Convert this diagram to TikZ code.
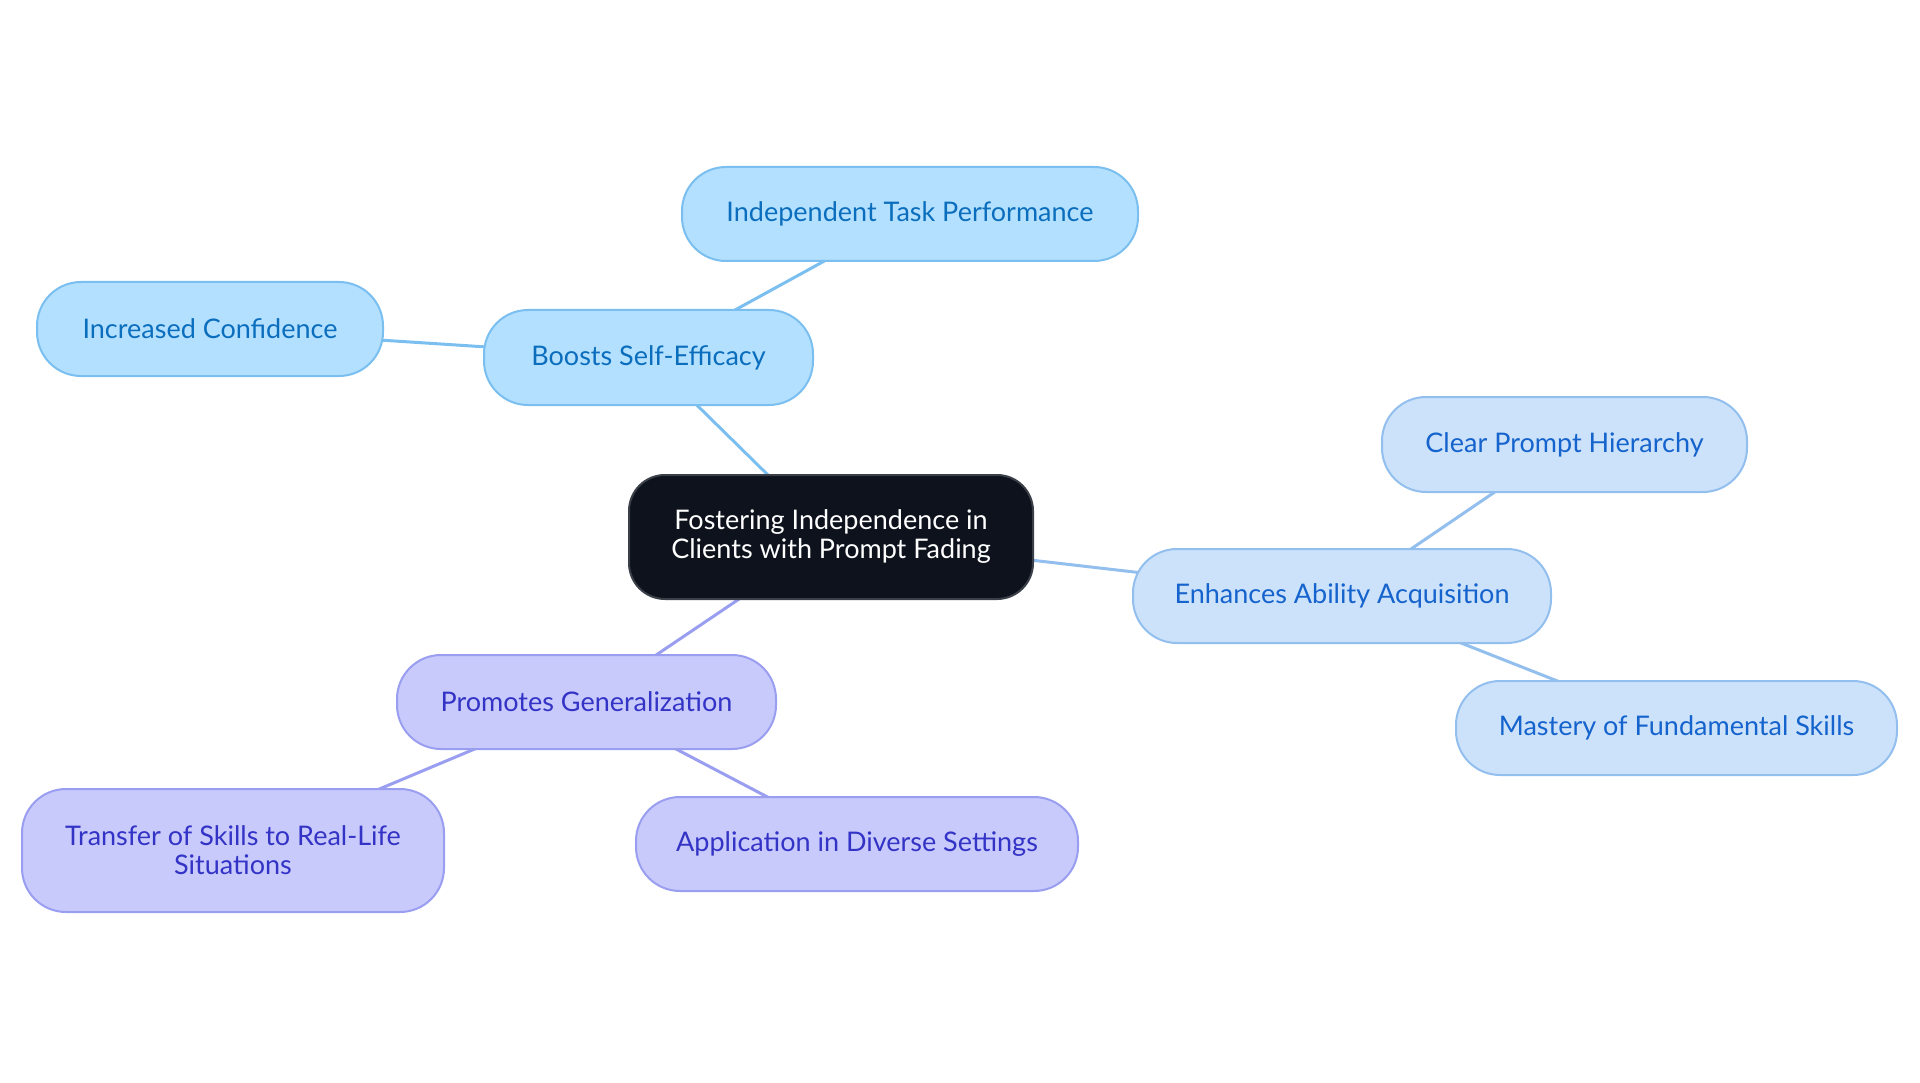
\documentclass[tikz,border=0pt]{standalone}
\usepackage{fontspec}
\setmainfont{Lato}
\usetikzlibrary{backgrounds}
\definecolor{cfill}{HTML}{0D121C}
\definecolor{cborder}{HTML}{3A3F48}
\definecolor{bfill}{HTML}{B3E0FF}
\definecolor{bborder}{HTML}{7ABFEF}
\definecolor{btext}{HTML}{0B6EBD}
\definecolor{efill}{HTML}{CCE2FB}
\definecolor{eborder}{HTML}{93BFEE}
\definecolor{etext}{HTML}{1563CC}
\definecolor{pfill}{HTML}{C8CAFB}
\definecolor{pborder}{HTML}{9A9EF0}
\definecolor{ptext}{HTML}{3333C6}
\tikzset{
  base/.style={rectangle, rounded corners=44pt, line width=2pt, inner sep=0pt, align=center,
     font=\fontsize{27}{29}\selectfont},
  central/.style={base, fill=cfill, draw=cborder, text=white, rounded corners=36pt},
  bnode/.style={base, fill=bfill, draw=bborder, text=btext},
  enode/.style={base, fill=efill, draw=eborder, text=etext},
  pnode/.style={base, fill=pfill, draw=pborder, text=ptext},
  bedge/.style={draw=bborder, line width=3pt},
  eedge/.style={draw=eborder, line width=3pt},
  pedge/.style={draw=pborder, line width=3pt},
}
\begin{document}
\begin{tikzpicture}[x=1pt,y=-1pt]
\useasboundingbox (0,0) rectangle (1920,1083);
\node[central, minimum width=404pt, minimum height=124pt] (c) at (831,537) {Fostering Independence in\\Clients with Prompt Fading};
\node[bnode, minimum width=329pt, minimum height=95pt] (b) at (648.5,357.5) {Boosts Self-Efficacy};
\node[bnode, minimum width=456pt, minimum height=94pt] (b1) at (910,214) {Independent Task Performance};
\node[bnode, minimum width=346pt, minimum height=94pt] (b2) at (210,329) {Increased Confidence};
\node[enode, minimum width=418pt, minimum height=94pt] (e) at (1342,596) {Enhances Ability Acquisition};
\node[enode, minimum width=365pt, minimum height=95pt] (e1) at (1564.5,444.5) {Clear Prompt Hierarchy};
\node[enode, minimum width=441pt, minimum height=94pt] (e2) at (1676.5,728) {Mastery of Fundamental Skills};
\node[pnode, minimum width=379pt, minimum height=94pt] (p) at (586.5,702) {Promotes Generalization};
\node[pnode, minimum width=422pt, minimum height=123pt] (p1) at (233,850.5) {Transfer of Skills to Real-Life\\Situations};
\node[pnode, minimum width=442pt, minimum height=94pt] (p2) at (857,844) {Application in Diverse Settings};
\begin{pgfonlayer}{background}
\draw[bedge] (c.center) -- (b.center);
\draw[bedge] (b.center) -- (b1.center);
\draw[bedge] (b.center) -- (b2.center);
\draw[eedge] (c.center) -- (e.center);
\draw[eedge] (e.center) -- (e1.center);
\draw[eedge] (e.center) -- (e2.center);
\draw[pedge] (c.center) -- (p.center);
\draw[pedge] (p.center) -- (p1.center);
\draw[pedge] (p.center) -- (p2.center);
\end{pgfonlayer}
\end{tikzpicture}
\end{document}
